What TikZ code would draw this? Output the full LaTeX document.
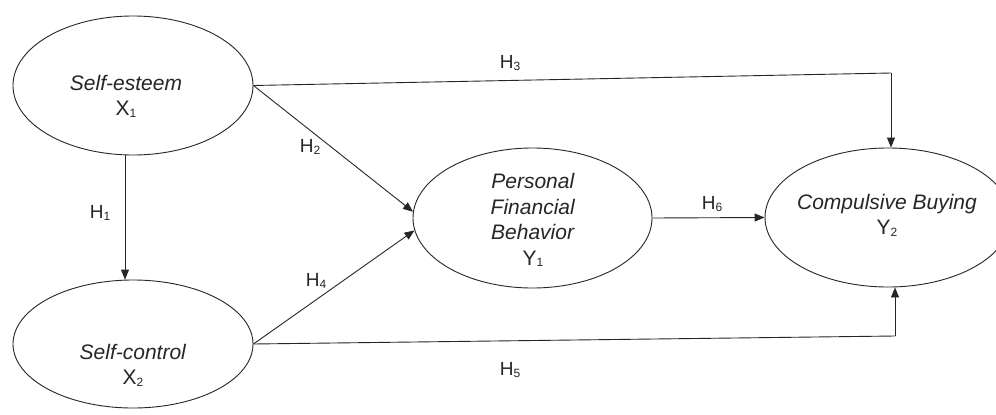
\documentclass[tikz,border=0pt]{standalone}
\usepackage{fontspec}
\setmainfont{Liberation Sans}
\usetikzlibrary{shapes.geometric,arrows.meta}
\newcommand{\sbs}[1]{\raisebox{-1.5pt}{\fontsize{12}{12}\selectfont #1}}
\begin{document}
\begin{tikzpicture}[x=1pt,y=-1pt,
  var/.style={draw=black!85, line width=0.9pt, ellipse, inner sep=0pt},
  vtext/.style={align=center, text=black!85, font=\fontsize{21}{25.5}\selectfont, inner sep=0pt},
  hlab/.style={text=black!85, font=\fontsize{19}{19}\selectfont, inner sep=0pt},
  arr/.style={draw=black!85, line width=0.9pt, -{Triangle[length=10pt,width=8pt]}},
  ln/.style={draw=black!85, line width=0.9pt}]
\useasboundingbox (0,0) rectangle (996,415);
\fill[white] (0,0) rectangle (996,415);
% variables
\node[var, minimum width=240pt, minimum height=139pt] (x1) at (133,85.5) {};
\node[var, minimum width=240pt, minimum height=128pt] (x2) at (133,344) {};
\node[var, minimum width=239pt, minimum height=140pt] (y1) at (532.5,218) {};
\node[var, minimum width=246pt, minimum height=139pt] (y2) at (888,217.5) {};
\node[vtext] (x1t) at (126,96) {\textit{Self-esteem}\\X\sbs{1}};
\node[vtext] (x2t) at (133,365) {\textit{Self-control}\\X\sbs{2}};
\node[vtext] (y1t) at (533,220) {\textit{Personal}\\\textit{Financial}\\\textit{Behavior}\\Y\sbs{1}};
\node[vtext] (y2t) at (887,215) {\textit{Compulsive Buying}\\Y\sbs{2}};
% helper corners
\coordinate (c3) at (891,73);
\coordinate (c5) at (895,336);
% connectors
\draw[arr] ([xshift=-8pt]x1.south) -- ([xshift=-8pt]x2.north);
\draw[ln] (x1.east) -- (c3);
\draw[arr] (c3) -- (c3 |- y2.north);
\draw[arr] (x1.east) -- (y1.177);
\draw[arr] (x2.east) -- (y1.186);
\draw[ln] (x2.east) -- (c5);
\draw[arr] (c5) -- (c5 |- y2.south);
\draw[arr] (y1.east) -- (y2.west);
% labels
\node[hlab] (h1) at (100,213) {H\sbs{1}};
\node[hlab] (h2) at (310,147) {H\sbs{2}};
\node[hlab] (h3) at (510,63) {H\sbs{3}};
\node[hlab] (h4) at (316,281) {H\sbs{4}};
\node[hlab] (h5) at (510,370) {H\sbs{5}};
\node[hlab] (h6) at (712,204) {H\sbs{6}};
\end{tikzpicture}
\end{document}
